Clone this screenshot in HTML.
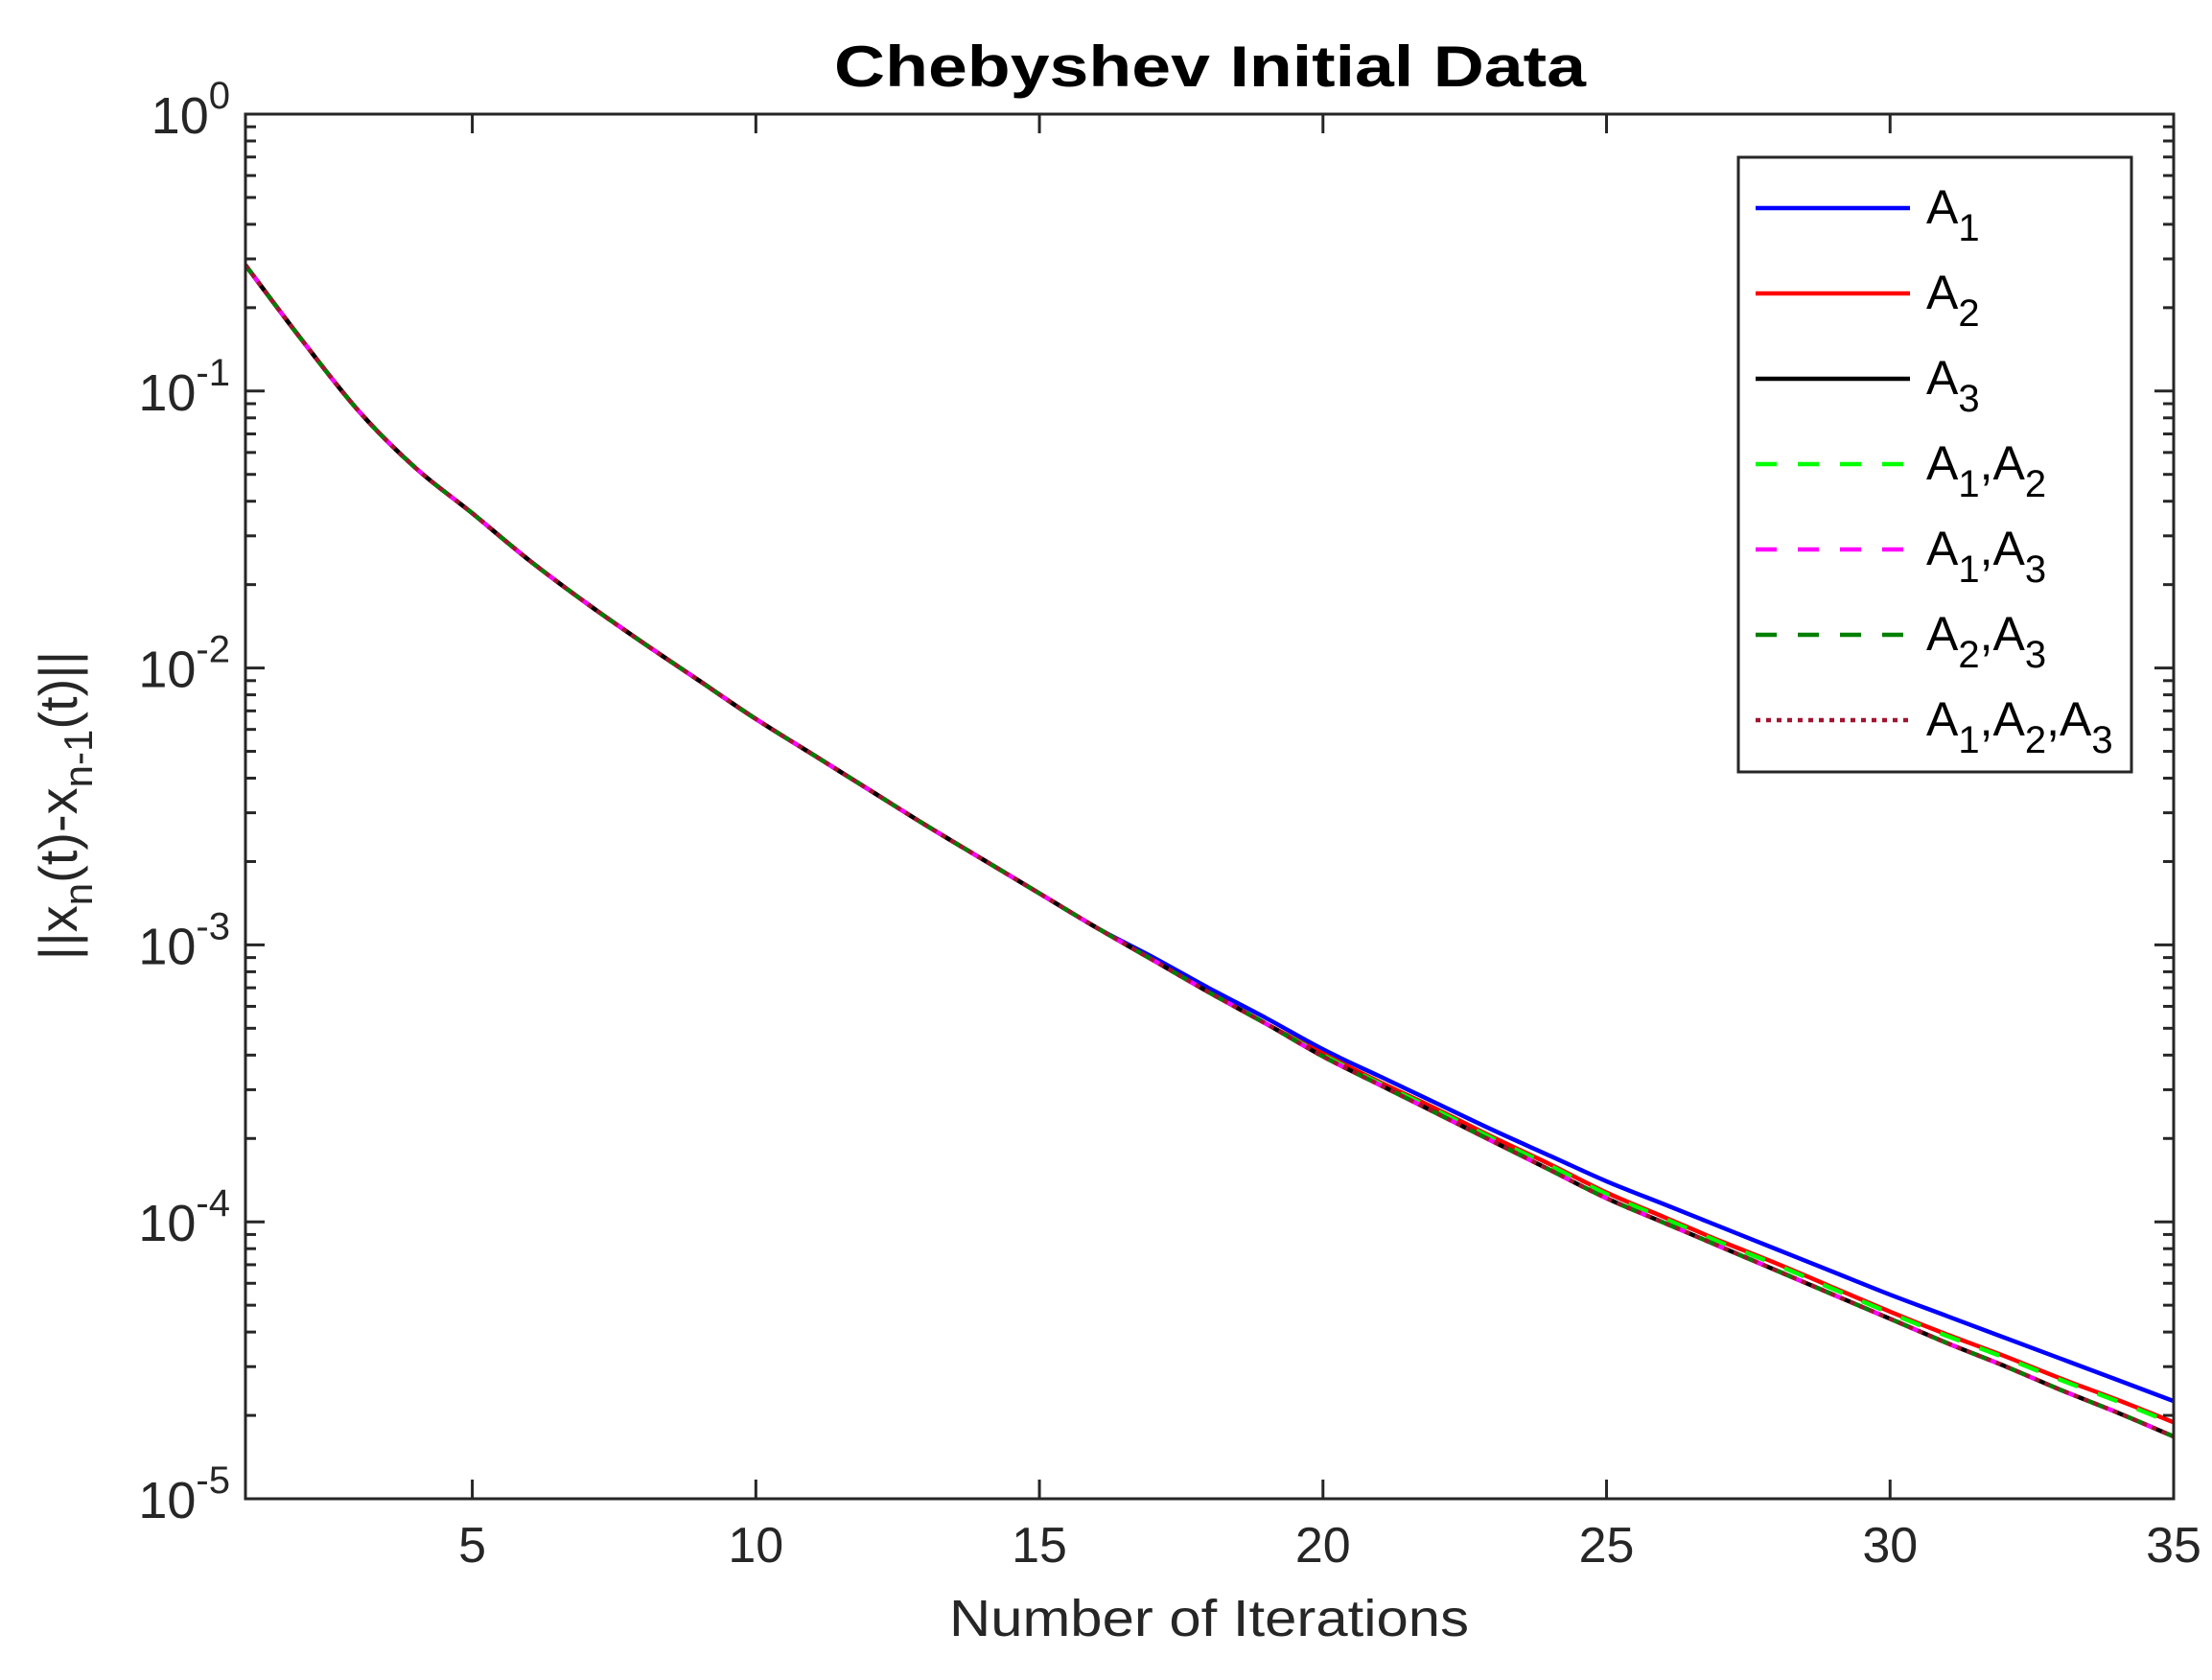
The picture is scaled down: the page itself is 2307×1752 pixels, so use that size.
<!DOCTYPE html>
<html><head><meta charset="utf-8"><style>
html,body{margin:0;padding:0;background:#fff;}
svg{display:block;font-family:"Liberation Sans",Arial,sans-serif;}
</style></head><body>
<svg id="s" width="2307" height="1752" viewBox="0 0 2307 1752" xmlns="http://www.w3.org/2000/svg">
<rect width="2307" height="1752" fill="#fff"/>
<g id="g"></g>
<text x="1262" y="90" font-size="60" font-weight="bold" text-anchor="middle" textLength="784" lengthAdjust="spacingAndGlyphs" fill="#000">Chebyshev Initial Data</text>
<text x="1261" y="1706" font-size="54" text-anchor="middle" textLength="542" lengthAdjust="spacingAndGlyphs" fill="#262626">Number of Iterations</text>
<text transform="translate(80,840) rotate(-90)" font-size="56" text-anchor="middle" fill="#262626">||x<tspan font-size="42" dy="16">n</tspan><tspan dy="-16">(t)-x</tspan><tspan font-size="42" dy="16">n-1</tspan><tspan dy="-16">(t)||</tspan></text>
</svg>
<script>
const NS="http://www.w3.org/2000/svg",g=document.getElementById('g');
function el(t,a,txt){const e=document.createElementNS(NS,t);for(const k in a)e.setAttribute(k,a[k]);if(txt!=null)e.textContent=txt;g.appendChild(e);return e;}
const L=256,R=2267,T=119,B=1563,D=(B-T)/5;
const X=x=>L+(x-1)*(R-L)/34;
const S=2307/1560;
const blk=[187,240,290,330,362,395,425,453,480,507,532,557,582,606,630,654,677,700,722,745,765,785,805,825,845,862,879,896,913,930,947,963,980,996,1013];
const blu=blk.slice(0,16).concat([675,697,718,740,759,778,797,815,833,849,865,881,897,913,928,943,958,973,988]);
const red=blk.slice(0,19).concat([743,763,782,802,821,841,858,875,891,908,925,941,956,972,987,1003]);
const grn=red.map((v,i)=>i>18?v+1:v);
function path(arr,a){
 const P=arr.map((y,i)=>[X(i+1),y*S]);
 let d='M'+P[0][0].toFixed(1)+','+P[0][1].toFixed(1);
 for(let i=0;i<P.length-1;i++){
  const p0=P[Math.max(0,i-1)],p1=P[i],p2=P[i+1],p3=P[Math.min(P.length-1,i+2)];
  const c1=[p1[0]+(p2[0]-p0[0])/6,p1[1]+(p2[1]-p0[1])/6],c2=[p2[0]-(p3[0]-p1[0])/6,p2[1]-(p3[1]-p1[1])/6];
  d+='C'+c1.map(v=>v.toFixed(1))+' '+c2.map(v=>v.toFixed(1))+' '+p2.map(v=>v.toFixed(1));
 }
 return el('path',Object.assign({d:d,fill:'none','stroke-linejoin':'round'},a));}
const clip=el('clipPath',{id:'c'});const cr=document.createElementNS(NS,'rect');cr.setAttribute('x',L);cr.setAttribute('y',T);cr.setAttribute('width',R-L);cr.setAttribute('height',B-T);clip.appendChild(cr);
const W=4.5;
path(blu,{stroke:'#0000ff','stroke-width':W,'clip-path':'url(#c)'});
path(red,{stroke:'#ff0000','stroke-width':W,'clip-path':'url(#c)'});
path(blk,{stroke:'#000','stroke-width':W,'clip-path':'url(#c)'});
path(grn,{stroke:'#00ff00','stroke-width':W,'stroke-dasharray':'22 22','clip-path':'url(#c)'});
path(blk,{stroke:'#ff00ff','stroke-width':W,'stroke-dasharray':'22 22','clip-path':'url(#c)'});
path(blk,{stroke:'#008000','stroke-width':W,'stroke-dasharray':'22 22','stroke-dashoffset':'11','clip-path':'url(#c)'});
path(blk,{stroke:'#a2142f','stroke-width':W,'stroke-dasharray':'5 6','clip-path':'url(#c)'});
el('rect',{x:L,y:T,width:R-L,height:B-T,fill:'none',stroke:'#262626','stroke-width':3});
for(let v=5;v<=35;v+=5){const x=X(v);el('line',{x1:x,y1:B,x2:x,y2:B-20,stroke:'#262626','stroke-width':3});el('line',{x1:x,y1:T,x2:x,y2:T+20,stroke:'#262626','stroke-width':3});
 el('text',{x:x,y:B+66,'font-size':52,'text-anchor':'middle',fill:'#262626'},String(v));}
for(let k=0;k<=5;k++){const y=T+k*D;
 el('line',{x1:L,y1:y,x2:L+20,y2:y,stroke:'#262626','stroke-width':3});el('line',{x1:R,y1:y,x2:R-20,y2:y,stroke:'#262626','stroke-width':3});
 const t=el('text',{x:L-16,y:y+20,'font-size':54,'text-anchor':'end',fill:'#262626'});
 const t1=document.createElementNS(NS,'tspan');t1.textContent='10';t.appendChild(t1);
 const t2=document.createElementNS(NS,'tspan');t2.setAttribute('font-size','40');t2.setAttribute('dy','-26');t2.textContent=k?'-'+k:'0';t.appendChild(t2);
 if(k<5)for(let m=2;m<=9;m++){const yy=y+D-D*Math.log10(m);
  el('line',{x1:L,y1:yy,x2:L+11,y2:yy,stroke:'#262626','stroke-width':3});el('line',{x1:R,y1:yy,x2:R-11,y2:yy,stroke:'#262626','stroke-width':3});}}
el('rect',{x:1813,y:164,width:410,height:641,fill:'#fff',stroke:'#262626','stroke-width':3});
const ent=[['#0000ff','',[['A','1']]],['#ff0000','',[['A','2']]],['#000','',[['A','3']]],['#00ff00','22 22',[['A','1'],[',A','2']]],['#ff00ff','22 22',[['A','1'],[',A','3']]],['#008000','22 22',[['A','2'],[',A','3']]],['#a2142f','5 6',[['A','1'],[',A','2'],[',A','3']]]];
ent.forEach((e,i)=>{const y=217+i*89;
 const a={x1:1831,y1:y,x2:1992,y2:y,stroke:e[0],'stroke-width':W};if(e[1])a['stroke-dasharray']=e[1];el('line',a);
 const t=el('text',{x:2009,y:y+16,'font-size':50,fill:'#000'});
 e[2].forEach(p=>{const a1=document.createElementNS(NS,'tspan');a1.setAttribute('dy',p[0][0]==','?'-18':'0');a1.textContent=p[0];t.appendChild(a1);
  const a2=document.createElementNS(NS,'tspan');a2.setAttribute('dy','18');a2.setAttribute('font-size','40');a2.textContent=p[1];t.appendChild(a2);});});
</script>
</body></html>
